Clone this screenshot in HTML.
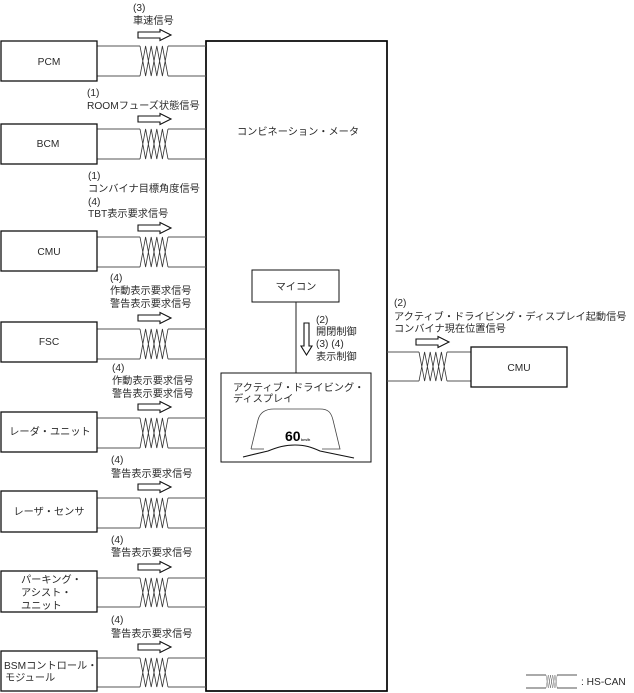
<!DOCTYPE html>
<html><head><meta charset="utf-8">
<style>
html,body{margin:0;padding:0;background:#fff;width:634px;height:693px;overflow:hidden}
svg{display:block}
text{font-family:"Liberation Sans","Noto Sans CJK JP",sans-serif;font-size:10.2px;fill:#2a2a2a}
.b{fill:#fff;stroke:#111;stroke-width:1.3}
.w{stroke:#555;stroke-width:1;fill:none}
.t{stroke:#333;stroke-width:.8;fill:none}
.a{fill:#fff;stroke:#111;stroke-width:1.1}
</style></head><body>
<svg width="634" height="693" viewBox="0 0 634 693" xmlns="http://www.w3.org/2000/svg">
<defs>
<g id="tw"><path class="t" d="M0 0L5.600 30L11.200 0L16.800 30L22.400 0L28 30M0 30L5.600 0L11.200 30L16.800 0L22.400 30L28 0"/></g>
<path id="ar" class="a" d="M0-3H22V-5.500L33 0L22 5.500V3H0Z"/>
</defs>

<rect class="b" x="206" y="41" width="181" height="650" style="stroke-width:1.7;stroke:#000"/>

<!-- Wires -->
<path class="w" d="M97 46H140M168 46H206M97 76H140M168 76H206"/><use href="#tw" transform="translate(140 46)"/>
<path class="w" d="M97 129H140M168 129H206M97 159H140M168 159H206"/><use href="#tw" transform="translate(140 129)"/>
<path class="w" d="M97 237H140M168 237H206M97 267H140M168 267H206"/><use href="#tw" transform="translate(140 237)"/>
<path class="w" d="M97 329H140M168 329H206M97 359H140M168 359H206"/><use href="#tw" transform="translate(140 329)"/>
<path class="w" d="M97 418H140M168 418H206M97 448H140M168 448H206"/><use href="#tw" transform="translate(140 418)"/>
<path class="w" d="M97 498H140M168 498H206M97 528H140M168 528H206"/><use href="#tw" transform="translate(140 498)"/>
<path class="w" d="M97 578H140M168 578H206M97 607H140M168 607H206"/><use href="#tw" transform="translate(140 578) scale(1 .967)"/>
<path class="w" d="M97 658H140M168 658H206M97 687H140M168 687H206"/><use href="#tw" transform="translate(140 658) scale(1 .967)"/>
<path class="w" d="M387 352H419M447 352H471M387 381H419M447 381H471"/><use href="#tw" transform="translate(419 352) scale(1 .967)"/>

<!-- Boxes -->
<rect class="b" x="1" y="41" width="96" height="40"/>
<rect class="b" x="1" y="124" width="96" height="40"/>
<rect class="b" x="1" y="231" width="96" height="40"/>
<rect class="b" x="1" y="322" width="96" height="40"/>
<rect class="b" x="1" y="412" width="96" height="40"/>
<rect class="b" x="1" y="491" width="96" height="41"/>
<rect class="b" x="1" y="571" width="96" height="41"/>
<rect class="b" x="1" y="651" width="96" height="40"/>
<rect class="b" x="471" y="347" width="96" height="40"/>

<!-- Arrows -->
<use href="#ar" transform="translate(138 35)"/>
<use href="#ar" transform="translate(138 119)"/>
<use href="#ar" transform="translate(138 228)"/>
<use href="#ar" transform="translate(138 318)"/>
<use href="#ar" transform="translate(138 407)"/>
<use href="#ar" transform="translate(138 487)"/>
<use href="#ar" transform="translate(138 567)"/>
<use href="#ar" transform="translate(138 647)"/>
<use href="#ar" transform="translate(416 342)"/>

<!-- Box labels -->
<text x="49" y="65" text-anchor="middle">PCM</text>
<text x="48" y="147" text-anchor="middle">BCM</text>
<text x="49" y="255" text-anchor="middle">CMU</text>
<text x="49" y="345" text-anchor="middle">FSC</text>
<text x="50" y="435" text-anchor="middle">レーダ・ユニット</text>
<text x="49" y="515" text-anchor="middle">レーザ・センサ</text>
<text x="21" y="583">パーキング・</text>
<text x="21" y="596">アシスト・</text>
<text x="21" y="609">ユニット</text>
<text x="4" y="669">BSMコントロール・</text>
<text x="5" y="681">モジュール</text>
<text x="519" y="371" text-anchor="middle">CMU</text>

<!-- Signal labels -->
<text x="133" y="11">(3)</text><text x="133" y="24">車速信号</text>
<text x="87" y="96">(1)</text><text x="87" y="109">ROOMフューズ状態信号</text>
<text x="88" y="179">(1)</text><text x="88" y="192">コンバイナ目標角度信号</text>
<text x="88" y="205">(4)</text><text x="88" y="217">TBT表示要求信号</text>
<text x="110" y="281">(4)</text><text x="110" y="294">作動表示要求信号</text><text x="110" y="307">警告表示要求信号</text>
<text x="112" y="371">(4)</text><text x="112" y="384">作動表示要求信号</text><text x="112" y="397">警告表示要求信号</text>
<text x="111" y="463">(4)</text><text x="111" y="477">警告表示要求信号</text>
<text x="111" y="543">(4)</text><text x="111" y="556">警告表示要求信号</text>
<text x="111" y="623">(4)</text><text x="111" y="637">警告表示要求信号</text>
<text x="394" y="306">(2)</text>
<text x="394" y="320">アクティブ・ドライビング・ディスプレイ起動信号</text>
<text x="394" y="332">コンバイナ現在位置信号</text>

<!-- Inside main box -->
<text x="237" y="135">コンビネーション・メータ</text>
<rect class="b" x="252" y="270" width="87" height="32" style="stroke-width:1"/>
<text x="296" y="290" text-anchor="middle">マイコン</text>
<path d="M296 302V373" stroke="#222" fill="none"/>
<path class="a" d="M304 323H309V346H312L306.500 355L301 346H304Z"/>
<text x="316" y="323">(2)</text>
<text x="316" y="335">開閉制御</text>
<text x="316" y="347">(3) (4)</text>
<text x="316" y="360">表示制御</text>
<rect class="b" x="221" y="373" width="150" height="89" style="stroke-width:1"/>
<text x="233" y="391">アクティブ・ドライビング・</text>
<text x="233" y="402">ディスプレイ</text>
<path d="M251 449L258 420C260 412 266 409 274 409H320C328 409 331 412 333 420L340 449H322" stroke="#444" stroke-width=".8" fill="none"/>
<path d="M251 449H264" stroke="#444" stroke-width=".8" fill="none"/>
<path d="M243 457L268 451C278 447 285 445 295 445C305 445 311 447 320 451L354 458" stroke="#111" stroke-width="1.1" fill="none"/>
<text x="285" y="441" style="font-size:14px;font-weight:bold;fill:#000">60</text>
<text x="301" y="441" style="font-size:4px;font-weight:bold">km/h</text>

<!-- Legend -->
<path class="w" d="M526 675H546M557 675H577M526 688H546M557 688H577" stroke="#222"/>
<use href="#tw" transform="translate(546 675) scale(.4 .433)"/>
<text x="581" y="685">: HS-CAN</text>
</svg>
</body></html>
